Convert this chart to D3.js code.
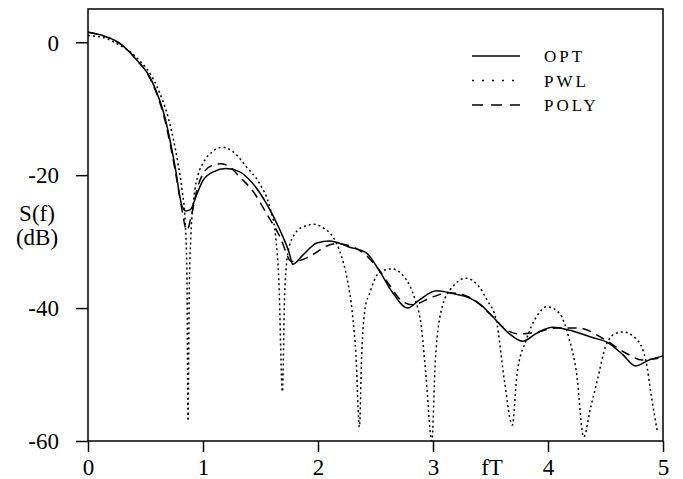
<!DOCTYPE html>
<html>
<head>
<meta charset="utf-8">
<script src="https://cdn.jsdelivr.net/npm/d3@7"></script>
<style>
  body { margin: 0; background: #fff; }
  text { font-family: "Liberation Serif", "DejaVu Serif", serif; fill: #000; }
</style>
</head>
<body>
<div id="chart"></div>
<script>
var width = 683;
var height = 479;

// fT values and S(f) in dB
var optF  = [0, 0.13, 0.26, 0.41, 0.56, 0.67, 0.755, 0.815, 0.85, 0.89, 0.95, 1.0, 1.09, 1.2, 1.32, 1.43, 1.55, 1.67, 1.75, 1.78, 1.87, 1.99, 2.1, 2.27, 2.42, 2.53, 2.65, 2.78, 2.88, 3.03, 3.17, 3.32, 3.4, 3.52, 3.66, 3.78, 3.9, 4.04, 4.18, 4.38, 4.53, 4.65, 4.76, 4.88, 5.0];
var optDb = [1.5, 1.0, 0, -2.4, -6, -11.4, -18.5, -24.5, -25.4, -25.2, -22.7, -20.8, -19.5, -19, -19.5, -21.2, -24.2, -28.3, -31.7, -33.4, -32, -30.2, -29.9, -30.8, -31.7, -34.3, -37.7, -40, -38.8, -37.4, -37.8, -38.5, -39.3, -41.3, -43.8, -45, -43.8, -42.9, -43.3, -44.4, -45.3, -47, -48.7, -47.8, -47.2];

var pwlF  = [0, 0.13, 0.26, 0.41, 0.6, 0.7, 0.78, 0.82, 0.845, 0.86, 0.87, 0.88, 0.895, 0.92, 0.96, 1.0, 1.08, 1.17, 1.27, 1.38, 1.49, 1.58, 1.63, 1.66, 1.69, 1.71, 1.74, 1.8, 1.88, 1.97, 2.05, 2.13, 2.2, 2.25, 2.3, 2.33, 2.36, 2.38, 2.41, 2.45, 2.53, 2.64, 2.77, 2.84, 2.9, 2.94, 2.99, 3.02, 3.08, 3.17, 3.29, 3.4, 3.47, 3.55, 3.62, 3.69, 3.73, 3.81, 3.9, 3.99, 4.1, 4.18, 4.25, 4.31, 4.37, 4.43, 4.5, 4.59, 4.65, 4.76, 4.85, 4.9, 4.95];
var pwlDb = [1.0, 0.7, -0.3, -2.1, -6.7, -11.5, -18, -22.5, -27, -35, -57, -38, -29, -23.5, -19.8, -18.2, -16.5, -15.8, -16.6, -18.8, -21.2, -24.8, -29, -36, -52.6, -38, -31.5, -28.8, -27.7, -27.4, -28, -29.3, -32, -35.3, -41, -47, -57.9, -47, -40, -37.7, -34.7, -34.1, -35.8, -38.5, -43, -50.4, -60, -48, -39.8, -36.8, -35.5, -36.8, -38.8, -41.8, -50.8, -57.6, -50, -44.8, -41.3, -39.8, -40.8, -44.4, -50, -59.4, -55, -50.8, -45.8, -43.8, -43.6, -44.5, -47.8, -53.4, -58.5];

var polyF  = [0, 0.13, 0.26, 0.41, 0.56, 0.67, 0.755, 0.81, 0.86, 0.9, 0.95, 1.0, 1.07, 1.15, 1.22, 1.32, 1.43, 1.55, 1.67, 1.77, 1.85, 1.95, 2.07, 2.16, 2.36, 2.51, 2.62, 2.72, 2.82, 3.0, 3.14, 3.32, 3.49, 3.64, 3.75, 3.9, 4.07, 4.27, 4.47, 4.68, 4.82, 5.0];
var polyDb = [1.5, 1.0, 0, -2.4, -6.2, -11.8, -19, -24.5, -28.3, -26, -22, -19.8, -18.6, -18.3, -18.6, -20.3, -22.3, -25.7, -29.3, -33, -32.8, -32, -30.7, -30.3, -31.3, -33.8, -36.5, -38.8, -39.5, -38.3, -37.7, -38.4, -40.8, -43.3, -43.9, -43.6, -43, -43, -44.5, -46.8, -47.8, -47.4];

var xTicks = [0, 1, 2, 3, 4, 5];
var yTicks = [0, -20, -40, -60];
var seriesNames = ['OPT', 'PWL', 'POLY'];

var plotLeft = 88, plotRight = 663, plotTop = 9, plotBottom = 441;

var x = d3.scaleLinear().domain([0, 5]).range([plotLeft, plotRight]);
var y = d3.scaleLinear().domain([-60, 5]).range([plotBottom, plotTop]);

var svg = d3.select('#chart')
  .append('svg')
    .attr('width', width)
    .attr('height', height);

svg.append('defs').append('clipPath').attr('id', 'plot')
  .append('rect')
    .attr('x', plotLeft).attr('y', plotTop)
    .attr('width', plotRight - plotLeft).attr('height', plotBottom - plotTop);

// frame
svg.append('rect')
  .attr('x', plotLeft).attr('y', plotTop)
  .attr('width', plotRight - plotLeft).attr('height', plotBottom - plotTop)
  .attr('fill', 'none').attr('stroke', '#000').attr('stroke-width', 1.5);

// axes (plain hyphen for negatives, like the original)
var yAxis = svg.append('g')
  .attr('transform', 'translate(' + plotLeft + ',0)')
  .call(d3.axisLeft(y).tickValues(yTicks).tickSize(12).tickFormat(function(d) { return String(d); }));
var xAxis = svg.append('g')
  .attr('transform', 'translate(0,' + plotBottom + ')')
  .call(d3.axisBottom(x).tickValues(xTicks).tickSize(11).tickFormat(function(d) { return String(d); }));

[xAxis, yAxis].forEach(function(a) {
  a.select('.domain').remove();
  a.selectAll('line').attr('stroke', '#000').attr('stroke-width', 1.5);
  a.selectAll('text').style('font-family', '"Liberation Serif", serif').style('font-size', '23px').attr('fill', '#000');
});
yAxis.selectAll('text').attr('x', -29).attr('dy', '0.34em');
xAxis.selectAll('text').attr('y', 34).attr('dy', 0);

// axis titles
svg.append('text').attr('x', 492).attr('y', 475).attr('text-anchor', 'middle')
  .style('font-size', '23px').text('fT');
svg.append('text').attr('x', 37).attr('y', 221).attr('text-anchor', 'middle')
  .style('font-size', '23px').text('S(f)');
svg.append('text').attr('x', 37).attr('y', 245).attr('text-anchor', 'middle')
  .style('font-size', '23px').text('(dB)');

// curves
var styles = {
  'OPT':  {f: optF,  db: optDb,  dash: null,  legendDash: null},
  'PWL':  {f: pwlF,  db: pwlDb,  dash: '2,3', legendDash: '2,8'},
  'POLY': {f: polyF, db: polyDb, dash: '9,6', legendDash: '11,8'}
};

var line = d3.line()
  .x(function(d) { return x(d[0]); })
  .y(function(d) { return y(d[1]); })
  .curve(d3.curveMonotoneX);

var plot = svg.append('g').attr('clip-path', 'url(#plot)');
seriesNames.forEach(function(name) {
  var s = styles[name];
  var pts = s.f.map(function(f, i) { return [f, s.db[i]]; });
  plot.append('path')
    .attr('d', line(pts))
    .attr('fill', 'none')
    .attr('stroke', '#000')
    .attr('stroke-width', 1.5)
    .attr('stroke-dasharray', s.dash);
});

// legend
var legend = svg.append('g');
seriesNames.forEach(function(name, i) {
  var s = styles[name];
  var ly = 56 + i * 24.5;
  legend.append('line')
    .attr('x1', 472).attr('x2', 520).attr('y1', ly).attr('y2', ly)
    .attr('stroke', '#000').attr('stroke-width', 1.5)
    .attr('stroke-dasharray', s.legendDash);
  legend.append('text')
    .attr('x', 544).attr('y', ly + 6)
    .style('font-size', '17px').style('letter-spacing', '3px')
    .text(name);
});
</script>
</body>
</html>
